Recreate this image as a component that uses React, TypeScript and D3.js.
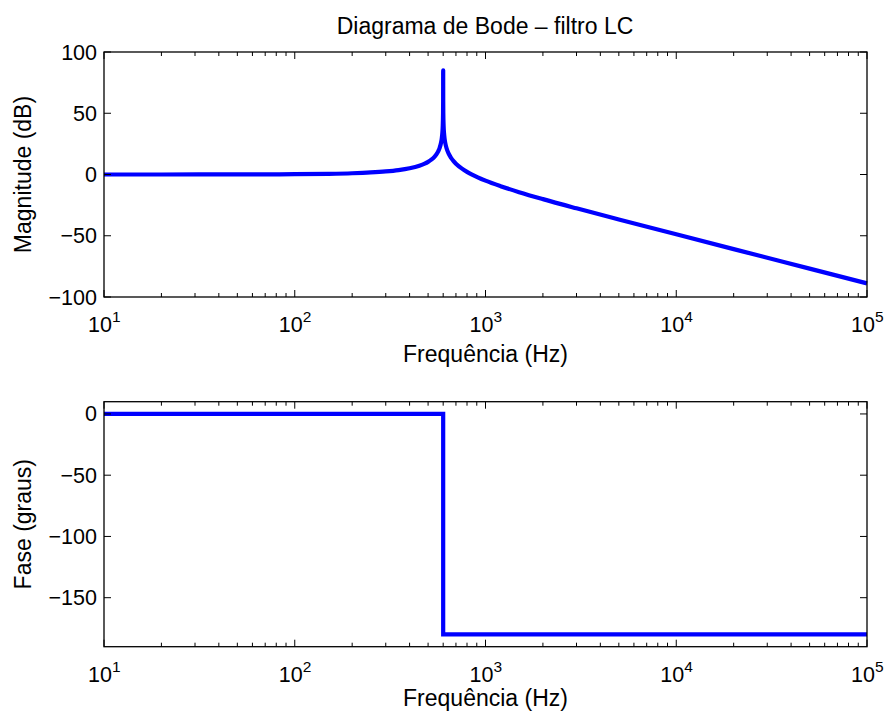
import React from "react";
import * as d3 from "d3";

// Frequency response of the LC filter (Hz, dB)
const magFreq = [
  10, 20, 50, 100, 150, 200, 250, 300, 350, 400, 450, 480, 500, 520, 540, 555,
  565, 575, 585, 590, 594, 597, 599, 599.7, 600, 600.3, 601, 603, 606, 610, 615,
  625, 640, 660, 680, 700, 750, 800, 850, 1000, 1200, 1500, 2000, 3000, 5000,
  10000, 20000, 50000, 100000,
];
const magDb = [
  0.0, 0.01, 0.06, 0.25, 0.56, 1.02, 1.66, 2.5, 3.61, 5.11, 7.18, 8.87, 10.3,
  12.08, 14.42, 16.81, 18.92, 21.77, 26.13, 29.6, 34.02, 40.02, 49.55, 60.0, 85,
  60.0, 49.53, 39.98, 33.94, 29.47, 25.91, 21.4, 17.22, 13.56, 10.92, 8.85, 5.0,
  2.18, -0.06, -5.0, -9.54, -14.4, -20.1, -27.6, -36.71, -48.84, -60.91, -76.83,
  -88.87,
];

// Phase (degrees)
const phaseFreq = [10, 600, 600, 100000];
const phaseDeg = [0, 0, -180, -180];

const xDecades = [10, 100, 1000, 10000, 100000];
const xExponents = ["1", "2", "3", "4", "5"];
const magTicks = [-100, -50, 0, 50, 100];
const phaseTicks = [-150, -100, -50, 0];

const titleText = "Diagrama de Bode \u2013 filtro LC";
const xLabelText = "Frequência (Hz)";
const magLabelText = "Magnitude (dB)";
const phaseLabelText = "Fase (graus)";

const W = 886;
const H = 715;
const left = 104;
const right = 867;
const FONT = "'Liberation Sans', Arial, Helvetica, sans-serif";
const TICK_FS = 21.5;
const minus = (v: number) => (v < 0 ? "\u2212" + Math.abs(v) : String(v));

type PanelProps = {
  top: number;
  bottom: number;
  domain: [number, number];
  yTicks: number[];
  freq: number[];
  vals: number[];
  yLabel: string;
  xLabelY: number;
  smooth: boolean;
};

function Panel({ top, bottom, domain, yTicks, freq, vals, yLabel, xLabelY, smooth }: PanelProps) {
  const x = d3.scaleLog().domain([10, 100000]).range([left, right]);
  const y = d3.scaleLinear().domain(domain).range([bottom, top]);
  const pts: [number, number][] = freq.map((f, i) => [f, vals[i]]);
  const line = d3
    .line<[number, number]>()
    .x((d) => x(d[0]))
    .y((d) => y(d[1]))
    .curve(smooth ? d3.curveMonotoneX : d3.curveLinear);

  const minor: number[] = [];
  xDecades.slice(0, -1).forEach((dec) => {
    for (let k = 2; k <= 9; k++) minor.push(dec * k);
  });

  const majorLen = 7;
  const minorLen = 4;
  const midY = (top + bottom) / 2;

  return (
    <g>
      <path
        d={line(pts) ?? ""}
        fill="none"
        stroke="#0000ff"
        strokeWidth={4.2}
        strokeLinejoin={smooth ? "round" : "miter"}
      />
      <rect x={left} y={top} width={right - left} height={bottom - top} fill="none" stroke="#000" strokeWidth={1.3} />
      {xDecades.map((d, i) => (
        <g key={"M" + d}>
          <line x1={x(d)} x2={x(d)} y1={bottom} y2={bottom - majorLen} stroke="#000" strokeWidth={1} />
          <line x1={x(d)} x2={x(d)} y1={top} y2={top + majorLen} stroke="#000" strokeWidth={1} />
          <text x={x(d) - 4} y={bottom + 35} textAnchor="middle" fontSize={TICK_FS} fontFamily={FONT} fill="#000">
            10
          </text>
          <text x={x(d) + 8} y={bottom + 25} textAnchor="start" fontSize={15.5} fontFamily={FONT} fill="#000">
            {xExponents[i]}
          </text>
        </g>
      ))}
      {minor.map((d) => (
        <g key={"m" + d}>
          <line x1={x(d)} x2={x(d)} y1={bottom} y2={bottom - minorLen} stroke="#000" strokeWidth={1} />
          <line x1={x(d)} x2={x(d)} y1={top} y2={top + minorLen} stroke="#000" strokeWidth={1} />
        </g>
      ))}
      {yTicks.map((t) => (
        <g key={"y" + t}>
          <line x1={left} x2={left + majorLen} y1={y(t)} y2={y(t)} stroke="#000" strokeWidth={1} />
          <line x1={right} x2={right - majorLen} y1={y(t)} y2={y(t)} stroke="#000" strokeWidth={1} />
          <text
            x={left - 7}
            y={y(t)}
            dy="0.35em"
            textAnchor="end"
            fontSize={TICK_FS}
            fontFamily={FONT}
            fill="#000"
          >
            {minus(t)}
          </text>
        </g>
      ))}
      <text
        x={(left + right) / 2}
        y={xLabelY}
        textAnchor="middle"
        fontSize={23}
        fontFamily={FONT}
        fill="#000"
      >
        {xLabelText}
      </text>
      <text
        transform={`translate(31,${midY}) rotate(-90)`}
        textAnchor="middle"
        fontSize={23}
        fontFamily={FONT}
        fill="#000"
      >
        {yLabel}
      </text>
    </g>
  );
}

export default function App() {
  return (
    <svg
      width={W}
      height={H}
      viewBox={`0 0 ${W} ${H}`}
      style={{ position: "absolute", left: 0, top: 0, background: "#fff" }}
    >
      <rect width={W} height={H} fill="#fff" />
      <text x={485} y={34} textAnchor="middle" fontSize={23} fontFamily={FONT} fill="#000">
        {titleText}
      </text>
      <Panel
        top={52}
        bottom={297}
        domain={[-100, 100]}
        yTicks={magTicks}
        freq={magFreq}
        vals={magDb}
        yLabel={magLabelText}
        xLabelY={361.5}
        smooth={true}
      />
      <Panel
        top={401.7}
        bottom={646.7}
        domain={[-190, 10]}
        yTicks={phaseTicks}
        freq={phaseFreq}
        vals={phaseDeg}
        yLabel={phaseLabelText}
        xLabelY={705.5}
        smooth={false}
      />
    </svg>
  );
}
